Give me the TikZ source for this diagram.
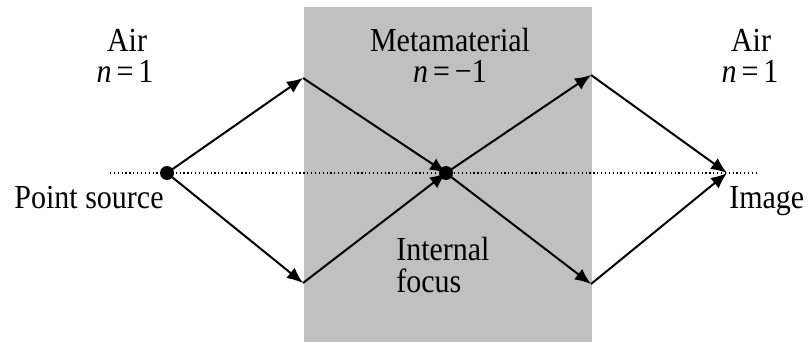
\documentclass[tikz,border=0pt]{standalone}
\usepackage{fontspec}
\setmainfont{Liberation Serif}
\usepackage{tikz}
\usetikzlibrary{
  arrows.meta,
  positioning
}
\definecolor{MetaGray}{RGB}{192,192,192}
\newcommand{\tallText}[1]{\scalebox{1}[1.12]{#1}}
\tikzset{
  label/.style={font=\fontsize{22.5}{27}\selectfont,inner sep=0pt,anchor=base,align=center},
  raydot/.style={circle,fill=black,inner sep=0pt,minimum size=10.5pt},
  rayarrow/.style={-{Latex[length=12pt,width=10pt]},line width=1.5pt,draw=black},
  axisline/.style={dotted,line width=0.9pt,draw=black}
}

\begin{document}
\begin{tikzpicture}[x=0.75pt,y=-0.75pt]
\useasboundingbox (0,0) rectangle (812,342);
\fill[MetaGray] (304,7) rectangle (592,342);

\node[raydot] (source) at (167,173) {};
\node[raydot] (focus) at (446,173) {};
\coordinate (image) at (727,173);
\coordinate (inUp) at (303,78);
\coordinate (inDown) at (303,283);
\coordinate (outUp) at (591,75);
\coordinate (outDown) at (591,284);
\coordinate (axisL) at (110,173);
\coordinate (axisR) at (757,173);

\draw[axisline] (axisL) -- (axisR);

\node[label] (airL) at (127,52) {\tallText{Air}};
\node[label] (nL) at (125,83) {\tallText{\textit{n}\,=\,1}};
\node[label] (meta) at (450,52) {\tallText{Metamaterial}};
\node[label] (nM) at (450,83) {\tallText{\textit{n}\,=\,−1}};
\node[label] (airR) at (751,52) {\tallText{Air}};
\node[label] (nR) at (750,83) {\tallText{\textit{n}\,=\,1}};
\node[label] (srcText) at (89,208) {\tallText{Point source}};
\node[label, anchor=base west] (imgText) at (729,208) {\tallText{Image}};
\node[label, anchor=base west] (focText) at (396,260) {\tallText{Internal}};
\node[label, anchor=base west] at (396,292) {\tallText{focus}};

\draw[rayarrow] (source.center) -- (inUp);
\draw[rayarrow] (source.center) -- (inDown);
\draw[rayarrow] (inUp) -- (focus.center);
\draw[rayarrow] (inDown) -- (focus.center);
\draw[rayarrow] (focus.center) -- (outUp);
\draw[rayarrow] (focus.center) -- (outDown);
\draw[rayarrow] (outUp) -- (image);
\draw[rayarrow] (outDown) -- (image);
\end{tikzpicture}
\end{document}
